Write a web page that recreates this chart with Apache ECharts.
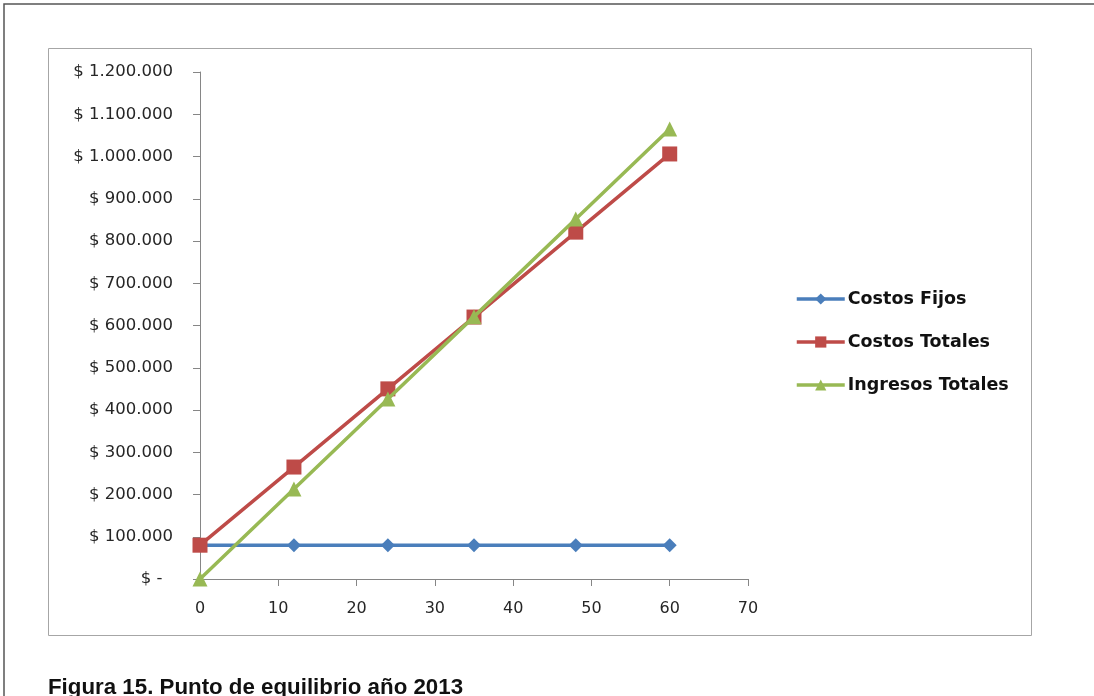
<!DOCTYPE html>
<html>
<head>
<meta charset="utf-8">
<script src="https://cdn.jsdelivr.net/npm/echarts@6/dist/echarts.min.js"></script>
<style>
  html, body { margin: 0; padding: 0; background: #fff; }
  #chart { width: 1094px; height: 696px; }
</style>
</head>
<body>
<div id="chart"></div>
<script>
// Unidades vendidas (eje X)
const unidades = [0, 12, 24, 35, 48, 60];
// Valores en pesos para cada serie
const costosFijos = [80000, 80000, 80000, 80000, 80000, 80000];
const costosTotales = [80000, 265000, 450000, 620000, 821000, 1006000];
const ingresosTotales = [0, 213000, 426000, 621000, 852000, 1065000];

const seriesNames = ['Costos Fijos', 'Costos Totales', 'Ingresos Totales'];
const caption = 'Figura 15. Punto de equilibrio año 2013';

function pesos(v) {
  if (v === 0) return '$ -  ';
  return '$ ' + String(v).replace(/\B(?=(\d{3})+(?!\d))/g, '.');
}

function pairs(ys) {
  return unidades.map((x, i) => [x, ys[i]]);
}

const chart = echarts.init(document.getElementById('chart'));
const axisColor = '#868686';
const labelFont = { fontFamily: 'DejaVu Sans', color: '#262626' };

chart.setOption({
  animation: false,
  backgroundColor: '#fff',
  graphic: [
    { type: 'rect', shape: { x: 4, y: 4, width: 1200, height: 800 },
      style: { fill: 'none', stroke: '#555', lineWidth: 1.5 }, z: 0 },
    { type: 'rect', shape: { x: 48.5, y: 48.5, width: 983, height: 587 },
      style: { fill: 'none', stroke: '#a6a6a6', lineWidth: 1 }, z: 0 },
    { type: 'text', left: 48, top: 677,
      style: { text: caption, fontFamily: 'Liberation Sans', fontWeight: 'bold',
               fontSize: 22.3, fill: '#111' } }
  ],
  grid: { left: 200, right: 346, top: 72, bottom: 117, containLabel: false },
  legend: {
    orient: 'vertical',
    left: 790,
    top: 285,
    itemWidth: 48,
    itemHeight: 14,
    itemGap: 25,
    lineStyle: { width: 3.5 },
    textStyle: { fontFamily: 'DejaVu Sans', fontWeight: 'bold', fontSize: 17.5, color: '#111', padding: [0, 0, 0, -2] },
    data: seriesNames
  },
  xAxis: {
    type: 'value',
    min: 0, max: 70, interval: 10,
    splitLine: { show: false },
    axisLine: { lineStyle: { color: axisColor } },
    axisTick: { show: true, length: 7, lineStyle: { color: axisColor } },
    axisLabel: Object.assign({ margin: 22, fontSize: 16 }, labelFont)
  },
  yAxis: {
    type: 'value',
    min: 0, max: 1200000, interval: 100000,
    splitLine: { show: false },
    axisLine: { show: true, lineStyle: { color: axisColor } },
    axisTick: { show: true, length: 7, lineStyle: { color: axisColor } },
    axisLabel: Object.assign({ margin: 27, fontSize: 16.5, formatter: pesos }, labelFont)
  },
  series: [
    { name: seriesNames[0], type: 'line', data: pairs(costosFijos),
      symbol: 'diamond', symbolSize: 14,
      lineStyle: { width: 3.5, color: '#4a7ebb' },
      itemStyle: { color: '#4a7ebb' }, z: 2 },
    { name: seriesNames[1], type: 'line', data: pairs(costosTotales),
      symbol: 'rect', symbolSize: 15,
      lineStyle: { width: 3.5, color: '#be4b48' },
      itemStyle: { color: '#be4b48' }, z: 3 },
    { name: seriesNames[2], type: 'line', data: pairs(ingresosTotales),
      symbol: 'triangle', symbolSize: 15,
      lineStyle: { width: 3.5, color: '#98b954' },
      itemStyle: { color: '#98b954' }, z: 4 }
  ]
});
</script>
</body>
</html>
